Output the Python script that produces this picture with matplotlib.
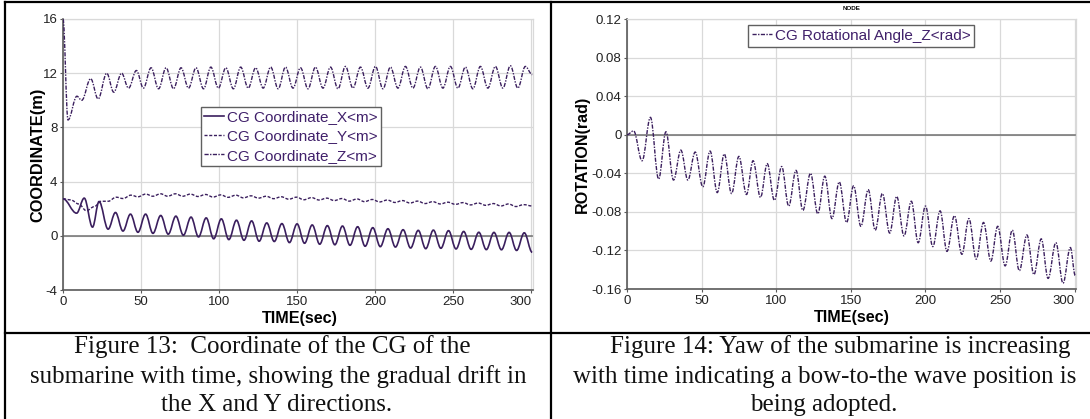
import matplotlib
matplotlib.use("Agg")
import matplotlib.pyplot as plt
from matplotlib.lines import Line2D
from matplotlib.path import Path
from matplotlib.patches import PathPatch

plt.rcParams['font.family'] = ['Liberation Sans', 'DejaVu Sans']
plt.rcParams['axes.unicode_minus'] = False

W, H = 1090, 419
LINE_COLOR = "#3b1f5e"
TEXT_PURPLE = "#40206a"
GRID_COLOR = "#d9d9d9"
SPINE_COLOR = "#5a5a5a"

# ---- Figure 13 data (time in s, coordinate in m), turning points ----
t_x = [0, 8.7, 13.6, 18.9, 23.1, 28.9, 33.6, 38.4, 43.2, 48.0, 52.9, 57.6, 62.6, 67.4,
       72.3, 77.1, 82.0, 86.8, 91.7, 96.5, 101.4, 106.2, 111.1, 115.9, 120.8, 125.6,
       130.5, 135.3, 140.2, 145.0, 149.9, 154.7, 159.6, 164.4, 169.3, 174.1, 179.0,
       183.8, 188.7, 193.5, 198.4, 203.2, 208.1, 212.9, 217.8, 222.6, 227.5, 232.3,
       237.2, 242.0, 246.9, 251.7, 256.6, 261.4, 266.3, 271.1, 276.0, 280.8, 285.7,
       290.5, 295.4, 300.5]
v_x = [2.73, 1.67, 2.78, 0.64, 2.53, 0.49, 1.72, 0.35, 1.60, 0.26, 1.60, 0.18, 1.50, 0.12,
       1.45, 0.04, 1.38, -0.08, 1.32, -0.22, 1.25, -0.28, 1.15, -0.33, 1.10, -0.40,
       0.95, -0.42, 0.90, -0.50, 0.88, -0.55, 0.80, -0.62, 0.75, -0.66, 0.72,
       -0.70, 0.67, -0.77, 0.60, -0.80, 0.52, -0.83, 0.45, -0.90, 0.40, -0.95,
       0.42, -0.92, 0.38, -0.97, 0.32, -1.00, 0.26, -1.02, 0.25, -1.03, 0.25,
       -1.08, 0.22, -1.22]

t_y = [0, 5, 10, 15, 20, 24.5, 29, 34, 38.5, 43.5, 48, 53, 57.5, 62.5, 67, 72, 76.7,
       81.6, 86.4, 91.3, 96.1, 101, 105.8, 110.7, 115.5, 120.4, 125.2, 130.1, 134.9,
       139.8, 144.6, 149.5, 154.3, 159.2, 164, 168.9, 173.7, 178.6, 183.4, 188.3,
       193.1, 198, 202.8, 207.7, 212.5, 217.4, 222.2, 227.1, 231.9, 236.8, 241.6,
       246.5, 251.3, 256.2, 261, 265.9, 270.7, 275.6, 280.4, 285.3, 290.1, 295, 300.5]
v_y = [2.73, 2.65, 2.35, 1.85, 2.15, 2.55, 2.55, 2.85, 2.75, 3.0, 2.88, 3.08, 2.92, 3.1,
       2.92, 3.1, 2.92, 3.08, 2.9, 3.05, 2.86, 3.02, 2.84, 3.0, 2.8, 2.95, 2.78, 2.92,
       2.74, 2.88, 2.7, 2.85, 2.66, 2.82, 2.64, 2.78, 2.6, 2.75, 2.56, 2.72, 2.52,
       2.68, 2.5, 2.64, 2.46, 2.6, 2.42, 2.56, 2.38, 2.52, 2.35, 2.48, 2.32, 2.45,
       2.28, 2.42, 2.25, 2.38, 2.2, 2.35, 2.16, 2.3, 2.2]

t_z = [0, 3.2, 8.9, 12.0, 17.7, 22.5, 28.0, 32.5, 37.5, 42.0, 47.0, 51.5, 56.4, 61.2,
       66.0, 70.8, 75.6, 80.4, 85.2, 90.0, 94.7, 99.5, 104.3, 109.1, 113.8, 118.6,
       123.4, 128.2, 133.0, 137.8, 142.5, 147.3, 152.1, 156.9, 161.7, 166.5, 171.3,
       176.1, 180.9, 185.7, 190.5, 195.3, 200.1, 204.9, 209.7, 214.5, 219.3, 224.1,
       228.9, 233.7, 238.5, 243.3, 248.1, 252.9, 257.7, 262.5, 267.3, 272.1, 276.9,
       281.7, 286.5, 291.3, 296.1, 300.5]
v_z = [16.0, 8.55, 10.3, 10.0, 11.6, 10.1, 12.0, 10.6, 12.0, 10.9, 12.2, 10.9, 12.4, 10.85,
       12.4, 10.85, 12.4, 10.9, 12.4, 10.85, 12.45, 10.9, 12.4, 10.85, 12.45, 10.9,
       12.4, 10.9, 12.45, 10.85, 12.45, 10.9, 12.4, 10.85, 12.45, 10.9, 12.45,
       10.85, 12.5, 10.9, 12.45, 10.9, 12.5, 10.85, 12.45, 10.9, 12.5, 10.9,
       12.45, 10.85, 12.5, 10.9, 12.5, 10.9, 12.45, 10.85, 12.5, 10.9, 12.5,
       10.9, 12.55, 10.9, 12.5, 11.9]

labels_13 = ["CG Coordinate_X<m>", "CG Coordinate_Y<m>", "CG Coordinate_Z<m>"]
yticks_13 = [-4, 0, 4, 8, 12, 16]

# ---- Figure 14 data (time in s, yaw in rad) ----
t_r = [0, 4.4, 10.1, 15.7, 21.2, 26.1, 31.2, 36.1, 40.8, 45.7, 50.8, 55.7, 60.5, 65.2,
       70.1, 75.0, 80.1, 84.5, 89.5, 94.0, 98.8, 103.7, 108.4, 113.3, 117.9, 123.0,
       127.9, 132.6, 137.4, 142.3, 147.2, 151.9, 156.8, 161.7, 166.4, 171.2, 176.1,
       180.8, 185.7, 190.6, 195.2, 200.1, 205.0, 209.9, 214.5, 219.5, 224.5, 229.2,
       234.1, 239.0, 243.9, 248.5, 253.5, 258.3, 263.0, 268.1, 272.8, 277.7, 282.3,
       287.5, 292.3, 297.2, 300.5]
v_r = [0, 0.004, -0.027, 0.018, -0.046, 0.003, -0.047, -0.016, -0.047, -0.018, -0.054,
       -0.017, -0.060, -0.020, -0.061, -0.0225, -0.062, -0.027, -0.065, -0.030, -0.068,
       -0.033, -0.074, -0.037, -0.0785, -0.040, -0.082, -0.043, -0.087, -0.049, -0.091,
       -0.053, -0.095, -0.057, -0.099, -0.061, -0.102, -0.064, -0.105, -0.069, -0.112,
       -0.074, -0.116, -0.079, -0.121, -0.084, -0.124, -0.087, -0.129, -0.091, -0.131,
       -0.095, -0.136, -0.099, -0.141, -0.104, -0.145, -0.108, -0.149, -0.112, -0.154,
       -0.117, -0.146]
label_14 = "CG Rotational Angle_Z<rad>"
yticks_14 = [-0.16, -0.12, -0.08, -0.04, 0, 0.04, 0.08, 0.12]
ytick_labels_14 = ["-0.16", "-0.12", "-0.08", "-0.04", "0", "0.04", "0.08", "0.12"]
xticks = [0, 50, 100, 150, 200, 250, 300]

caption_13 = ["Figure 13:  Coordinate of the CG of the",
              "submarine with time, showing the gradual drift in",
              "the X and Y directions."]
caption_14 = ["Figure 14: Yaw of the submarine is increasing",
              "with time indicating a bow-to-the wave position is",
              "being adopted."]

SOLID = "-"
DASHED = (0, (2.2, 1.2))
DASHDOT = (0, (3, 1, 1, 1))


def fx(x):
    return x / W


def fy(y):
    return 1 - y / H


def wave(ax, ts, vs, ls, lw):
    # smooth curve through the turning points (flat tangent at each one)
    verts = [(ts[0], vs[0])]
    codes = [Path.MOVETO]
    for t0, v0, t1, v1 in zip(ts[:-1], vs[:-1], ts[1:], vs[1:]):
        k = 0.364 * (t1 - t0)
        verts += [(t0 + k, v0), (t1 - k, v1), (t1, v1)]
        codes += [Path.CURVE4] * 3
    ax.add_patch(PathPatch(Path(verts, codes), fill=False, edgecolor=LINE_COLOR,
                           lw=lw, linestyle=ls, zorder=3))
    return Line2D([], [], color=LINE_COLOR, lw=lw, linestyle=ls)


def style_axes(ax):
    ax.set_xlim(0, 301)
    ax.set_xticks(xticks)
    ax.grid(True, color=GRID_COLOR, lw=0.9)
    ax.set_axisbelow(True)
    for s in ["left", "bottom"]:
        ax.spines[s].set_color(SPINE_COLOR)
        ax.spines[s].set_linewidth(1.2)
    for s in ["top", "right"]:
        ax.spines[s].set_color(GRID_COLOR)
        ax.spines[s].set_linewidth(0.9)
    ax.tick_params(length=2, width=0.8, color=SPINE_COLOR, labelsize=9.5,
                   labelcolor="#222222", pad=2)
    ax.get_xticklabels()[-1].set_horizontalalignment("right")
    ax.axhline(0, color="#707070", lw=1.1, zorder=1.5)
    ax.set_xlabel("TIME(sec)", fontsize=11.6, fontweight="bold")


fig = plt.figure(figsize=(W / 100, H / 100), dpi=100)

# Figure 13 panel
ax1 = fig.add_axes([fx(63), fy(290), fx(533) - fx(63), fy(19) - fy(290)])
h1 = [wave(ax1, t_x, v_x, SOLID, 1.2),
      wave(ax1, t_y, v_y, DASHED, 1.0),
      wave(ax1, t_z, v_z, DASHDOT, 1.0)]
ax1.set_ylim(-4, 16)
ax1.set_yticks(yticks_13)
style_axes(ax1)
ax1.set_ylabel("COORDINATE(m)", fontsize=11.8, fontweight="bold")
ax1.yaxis.set_label_coords(-0.038, 0.5)
ax1.xaxis.set_label_coords(0.504, -0.079)
leg1 = ax1.legend(h1, labels_13, loc="upper left", bbox_to_anchor=(0.2936, 0.675),
                  borderaxespad=0, fontsize=11, fancybox=False, framealpha=1,
                  edgecolor="#606060", handlelength=1.3, handletextpad=0.2,
                  labelspacing=0.33, borderpad=0.22, labelcolor=TEXT_PURPLE)
leg1.get_frame().set_linewidth(1.0)

# Figure 14 panel
ax2 = fig.add_axes([fx(627), fy(289), fx(1076) - fx(627), fy(19) - fy(289)])
h2 = [wave(ax2, t_r, v_r, DASHDOT, 1.0)]
ax2.set_ylim(-0.16, 0.12)
ax2.set_yticks(yticks_14)
ax2.set_yticklabels(ytick_labels_14)
style_axes(ax2)
ax2.set_ylabel("ROTATION(rad)", fontsize=11.6, fontweight="bold")
ax2.yaxis.set_label_coords(-0.082, 0.5)
ax2.xaxis.set_label_coords(0.501, -0.076)
leg2 = ax2.legend(h2, [label_14], loc="upper left", bbox_to_anchor=(0.2695, 0.978),
                  borderaxespad=0, fontsize=11, fancybox=False, framealpha=1,
                  edgecolor="#606060", handlelength=1.3, handletextpad=0.2,
                  borderpad=0.25, labelcolor=TEXT_PURPLE)
leg2.get_frame().set_linewidth(1.0)

fig.text(fx(852), fy(9), "NODE", fontsize=4.5, fontweight="bold", ha="center", va="center")

# table borders
for (x0, y0, x1, y1) in [(5, 2, 1090, 2), (5, 2, 5, 419), (551, 2, 551, 419), (5, 333, 1090, 333)]:
    fig.add_artist(Line2D([fx(x0), fx(x1)], [fy(y0), fy(y1)], color="black", lw=1.6,
                          transform=fig.transFigure))

# captions
cap_y = [347, 377, 405]
for line, cx, cy in zip(caption_13, [272, 278, 277], cap_y):
    fig.text(fx(cx), fy(cy), line, family="Liberation Serif", fontsize=18,
             ha="center", va="center", color="#111111")
for line, cx, cy in zip(caption_14, [840, 824.5, 824], cap_y):
    fig.text(fx(cx), fy(cy), line, family="Liberation Serif", fontsize=18,
             ha="center", va="center", color="#111111")

fig.savefig("out.png", dpi=100)
